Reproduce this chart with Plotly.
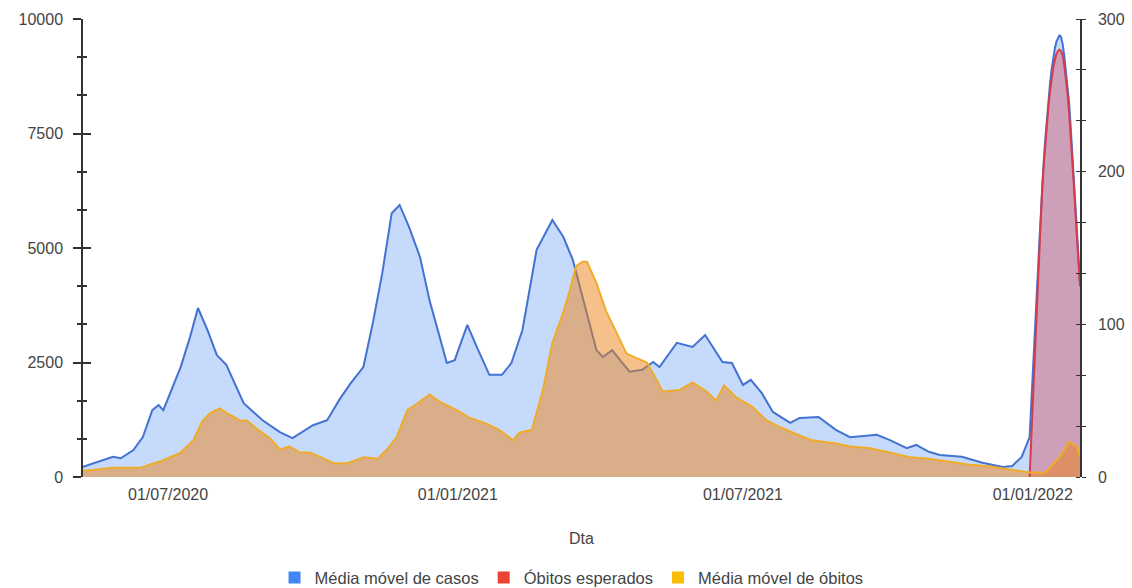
import pandas as pd
import plotly.graph_objects as go

# daily moving average of cases (left axis)
cases_dates = [
    "2020-05-08", "2020-05-27", "2020-06-01", "2020-06-09", "2020-06-15",
    "2020-06-21", "2020-06-25", "2020-06-28", "2020-07-09", "2020-07-15",
    "2020-07-20", "2020-07-26", "2020-08-01", "2020-08-07", "2020-08-18",
    "2020-08-30", "2020-09-10", "2020-09-18", "2020-10-01", "2020-10-10",
    "2020-10-18", "2020-10-25", "2020-11-02", "2020-11-08", "2020-11-14",
    "2020-11-20", "2020-11-25", "2020-12-01", "2020-12-08", "2020-12-14",
    "2020-12-21", "2020-12-25", "2020-12-30", "2021-01-07", "2021-01-13",
    "2021-01-21", "2021-01-29", "2021-02-04", "2021-02-11", "2021-02-20",
    "2021-03-02", "2021-03-09", "2021-03-15", "2021-03-21", "2021-03-24",
    "2021-03-30", "2021-04-03", "2021-04-09", "2021-04-14", "2021-04-20",
    "2021-04-28", "2021-05-05", "2021-05-09", "2021-05-20", "2021-05-30",
    "2021-06-07", "2021-06-18", "2021-06-24", "2021-07-01", "2021-07-06",
    "2021-07-13", "2021-07-20", "2021-07-31", "2021-08-06", "2021-08-18",
    "2021-08-25", "2021-08-29", "2021-09-07", "2021-09-24", "2021-10-02",
    "2021-10-13", "2021-10-19", "2021-10-27", "2021-11-03", "2021-11-17",
    "2021-11-30", "2021-12-13", "2021-12-19", "2021-12-25", "2021-12-30",
    "2021-12-31", "2022-01-01", "2022-01-02", "2022-01-03", "2022-01-04",
    "2022-01-05", "2022-01-06", "2022-01-07", "2022-01-08", "2022-01-09",
    "2022-01-10", "2022-01-11", "2022-01-12", "2022-01-13", "2022-01-14",
    "2022-01-15", "2022-01-16", "2022-01-17", "2022-01-18", "2022-01-19",
    "2022-01-20", "2022-01-21", "2022-01-22", "2022-01-23", "2022-01-24",
    "2022-01-25", "2022-01-26", "2022-01-27", "2022-01-28", "2022-01-29",
    "2022-01-30", "2022-01-31",
]
cases_values = [
    220, 440, 410, 590, 870,
    1460, 1570, 1460, 2400, 3060,
    3690, 3210, 2660, 2450, 1610,
    1240, 980, 850, 1130, 1240,
    1700, 2050, 2400, 3360, 4450,
    5760, 5940, 5460, 4800, 3860,
    2990, 2490, 2550, 3320, 2840,
    2230, 2230, 2490, 3210, 4960,
    5610, 5240, 4740, 3930, 3580,
    2770, 2620, 2770, 2550, 2300,
    2340, 2510, 2400, 2930, 2840,
    3100, 2510, 2490, 2010, 2120,
    1830, 1420, 1180, 1290, 1310,
    1140, 1030, 870, 920, 810,
    630, 700, 550, 480, 440,
    310, 220, 240, 440, 870,
    1500, 2200, 2900, 3600, 4300,
    5000, 5700, 6350, 6900, 7400,
    7850, 8250, 8600, 8900, 9150,
    9350, 9500, 9600, 9650, 9600,
    9450, 9200, 8900, 8600, 8200,
    7700, 7150, 6600, 5950, 5350,
    4750, 4250,
]

# expected deaths (right axis)
expected_start = "2021-12-30"
expected_values = [
    0, 25, 50, 75, 100, 125, 150, 170, 190, 205, 220,
    232, 243, 253, 261, 268, 273, 277, 279, 280, 279,
    276, 270, 262, 252, 240, 226, 210, 193, 175, 157, 140, 125,
]
expected_dates = pd.date_range(expected_start, periods=len(expected_values), freq="D")

# moving average of deaths (right axis)
deaths_dates = [
    "2020-05-08", "2020-05-27", "2020-06-13", "2020-06-28", "2020-07-09",
    "2020-07-17", "2020-07-23", "2020-07-28", "2020-08-03", "2020-08-07",
    "2020-08-16", "2020-08-20", "2020-08-27", "2020-09-04", "2020-09-10",
    "2020-09-16", "2020-09-23", "2020-09-29", "2020-10-06", "2020-10-14",
    "2020-10-23", "2020-11-02", "2020-11-11", "2020-11-17", "2020-11-23",
    "2020-11-30", "2020-12-06", "2020-12-14", "2020-12-21", "2020-12-31",
    "2021-01-08", "2021-01-19", "2021-01-27", "2021-02-05", "2021-02-09",
    "2021-02-17", "2021-02-24", "2021-03-02", "2021-03-08", "2021-03-13",
    "2021-03-17", "2021-03-21", "2021-03-24", "2021-03-30", "2021-04-05",
    "2021-04-12", "2021-04-18", "2021-04-24", "2021-05-01", "2021-05-07",
    "2021-05-11", "2021-05-22", "2021-05-30", "2021-06-08", "2021-06-14",
    "2021-06-19", "2021-06-27", "2021-07-07", "2021-07-16", "2021-07-24",
    "2021-08-04", "2021-08-14", "2021-08-29", "2021-09-07", "2021-09-19",
    "2021-10-02", "2021-10-15", "2021-10-27", "2021-11-09", "2021-11-22",
    "2021-12-04", "2021-12-17", "2021-12-30", "2022-01-09", "2022-01-18",
    "2022-01-24", "2022-01-29", "2022-01-31",
]
deaths_values = [
    4, 6, 6, 11, 16,
    24, 37, 42, 45, 42,
    37, 37, 31, 25, 18,
    20, 16, 16, 13, 9,
    9, 13, 12, 18, 26,
    44, 48, 54, 49, 44,
    39, 35, 31, 24, 29,
    31, 57, 88, 105, 122,
    138, 141, 141, 127, 109,
    94, 81, 78, 75, 64,
    56, 57, 62, 56, 50,
    60, 52, 46, 37, 33,
    28, 24, 22, 20, 19,
    16, 13, 12, 10, 8,
    7, 5, 3, 3, 13,
    23, 20, 13,
]

x_tick_dates = ["2020-07-01", "2021-01-01", "2021-07-01", "2022-01-01"]
left_ticks = [0, 2500, 5000, 7500, 10000]
right_ticks = [0, 100, 200, 300]

FONT = "Arial"
TEXT = "#444444"
AXIS = "#333333"

series = [
    # name, x, y, axis, line colour, fill colour, legend colour
    ("Média móvel de casos", cases_dates, cases_values, "y",
     "#4472d2", "rgba(66,133,244,0.30)", "#4285f4"),
    ("Óbitos esperados", expected_dates, expected_values, "y2",
     "#d93a48", "rgba(220,50,60,0.35)", "#ea4335"),
    ("Média móvel de óbitos", deaths_dates, deaths_values, "y2",
     "#f0ac28", "rgba(236,130,20,0.50)", "#fbbc04"),
]

fig = go.Figure()

# areas first, so every line sits on top of all fills
for name, xs, ys, axis, line_color, fill_color, _ in series:
    fig.add_trace(go.Scatter(
        x=xs, y=ys, yaxis=axis, mode="lines", line=dict(width=0),
        fill="tozeroy", fillcolor=fill_color, showlegend=False, hoverinfo="skip",
    ))

for name, xs, ys, axis, line_color, fill_color, _ in series:
    fig.add_trace(go.Scatter(
        x=xs, y=ys, yaxis=axis, mode="lines", name=name,
        line=dict(color=line_color, width=2), showlegend=False,
    ))

# square legend keys
for name, _, _, _, _, _, key_color in series:
    fig.add_trace(go.Scatter(
        x=[None], y=[None], mode="markers", name=name,
        marker=dict(symbol="square", size=12, color=key_color),
    ))

# helper traces so the tick-crossing overlay axes are drawn
for axis in ("y3", "y4"):
    fig.add_trace(go.Scatter(x=[None], y=[None], yaxis=axis, showlegend=False))

fig.update_layout(
    width=1132,
    height=588,
    margin=dict(l=83, r=52, t=19, b=111, autoexpand=False),
    paper_bgcolor="white",
    plot_bgcolor="white",
    font=dict(family=FONT, size=16, color=TEXT),
    showlegend=True,
    legend=dict(
        orientation="h", x=0.49, xanchor="center", y=-0.22, yanchor="middle",
        font=dict(size=16.5, color=TEXT), itemwidth=30,
    ),
    xaxis=dict(
        type="date",
        range=["2020-05-08", "2022-01-31"],
        tickvals=x_tick_dates,
        tickformat="%d/%m/%Y",
        showgrid=False, zeroline=False, showline=False, ticks="",
        ticklabelstandoff=6, automargin=False,
        title=dict(text="Dta", standoff=30, font=dict(size=16, color=TEXT)),
    ),
    yaxis=dict(
        range=[0, 10000], tickvals=left_ticks, tickformat="d",
        showgrid=False, zeroline=False, automargin=False,
        showline=True, linecolor=AXIS, linewidth=1.5,
        ticks="outside", ticklen=8, tickcolor=AXIS, tickwidth=1.5,
        minor=dict(ticks="outside", ticklen=4, dtick=2500 / 3, tickcolor=AXIS,
                   showgrid=False),
        ticklabelstandoff=7,
    ),
    yaxis2=dict(
        range=[0, 300], tickvals=right_ticks, overlaying="y", side="right",
        showgrid=False, zeroline=False, showline=True, linecolor=AXIS,
        linewidth=1.5, ticks="", automargin=False,
        minor=dict(ticks="outside", ticklen=4, dtick=100 / 3, tickcolor=AXIS,
                   showgrid=False),
        ticklabelstandoff=13,
    ),
    yaxis3=dict(
        range=[0, 10000], overlaying="y", side="left", showgrid=False,
        zeroline=False, showline=False, showticklabels=False, automargin=False,
        tickvals=left_ticks, ticks="inside", ticklen=8, tickcolor=AXIS,
        tickwidth=1.5,
        minor=dict(ticks="inside", ticklen=4, dtick=2500 / 3, tickcolor=AXIS),
    ),
    yaxis4=dict(
        range=[0, 300], overlaying="y", side="right", showgrid=False,
        zeroline=False, showline=False, showticklabels=False, automargin=False,
        tickvals=right_ticks, ticks="",
        minor=dict(ticks="inside", ticklen=4, dtick=100 / 3, tickcolor=AXIS),
    ),
)

fig.write_html(
    "out.html",
    config={"displayModeBar": False},
    post_script="document.body.style.margin='0';",
)
